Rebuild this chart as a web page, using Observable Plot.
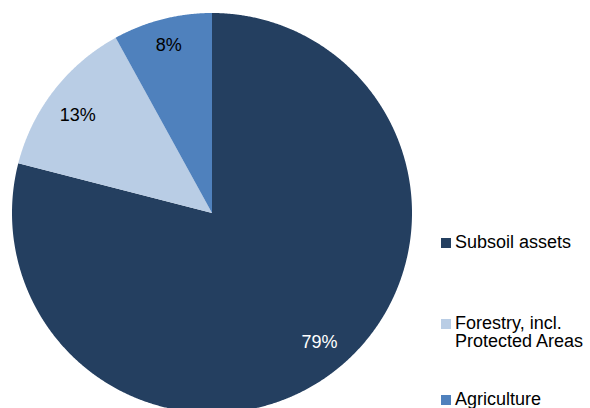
<!DOCTYPE html>
<html>
<head>
<meta charset="utf-8">
<script src="https://cdn.jsdelivr.net/npm/d3@7"></script>
<script src="https://cdn.jsdelivr.net/npm/@observablehq/plot@0.6"></script>
<style>
  html, body { margin: 0; padding: 0; background: #fff; }
  #wrap { position: relative; width: 590px; height: 408px; font-family: "Liberation Sans", Arial, sans-serif; }
  #legend { position: absolute; left: 441px; top: 0; font-size: 18px; color: #000; }
  .item { position: absolute; left: 0; white-space: nowrap; line-height: 18px; }
  .sw { position: absolute; left: 0; width: 10px; height: 10px; }
  .lab { position: absolute; left: 14px; white-space: pre; }
</style>
</head>
<body>
<div id="wrap"><div id="legend"></div></div>
<script>
const categories = ["Subsoil assets", "Forestry, incl. Protected Areas", "Agriculture"];
const legendLabels = ["Subsoil assets", "Forestry, incl.\nProtected Areas", "Agriculture"];
const shares = [79, 13, 8];
const shareLabels = ["79%", "13%", "8%"];
const colors = ["#243F60", "#B9CDE5", "#4F81BD"];
const labelColors = ["#ffffff", "#000000", "#000000"];

const W = 430, H = 408, CX = 212, CY = 213, R = 200;
// small per-label nudges (pixels), matching the original's label placement
const nudges = [[4, -4], [-2, 5], [-2, -6]];

const arcs = d3.pie().sort(null).value(d => d)(shares);
const rows = [];
arcs.forEach((a, i) => {
  const n = Math.max(2, Math.ceil((a.endAngle - a.startAngle) / 0.005));
  for (let k = 0; k <= n; k++) {
    const t = a.startAngle + (a.endAngle - a.startAngle) * k / n;
    rows.push({cat: categories[i], x: Math.sin(t), y: Math.cos(t), cx: 0, cy: 0});
  }
});
const labels = arcs.map((a, i) => {
  const m = (a.startAngle + a.endAngle) / 2;
  return {text: shareLabels[i], x: 0.84 * Math.sin(m), y: 0.84 * Math.cos(m), color: labelColors[i], i};
});

const chart = Plot.plot({
  width: W, height: H,
  marginTop: 0, marginRight: 0, marginBottom: 0, marginLeft: 0,
  style: {fontFamily: "'Liberation Sans', Arial, sans-serif", background: "transparent"},
  x: {domain: [-CX / R, (W - CX) / R], range: [0, W], axis: null},
  y: {domain: [-(H - CY) / R, CY / R], range: [H, 0], axis: null},
  color: {domain: categories, range: colors},
  marks: [
    Plot.area(rows, {x1: "x", y1: "y", x2: "cx", y2: "cy", fill: "cat", z: "cat", curve: "linear"}),
    ...labels.map(l => Plot.text([l], {x: "x", y: "y", text: "text", fill: l.color, fontSize: 18,
      dx: nudges[l.i][0], dy: nudges[l.i][1]}))
  ]
});
document.getElementById("wrap").prepend(chart);

const tops = [233, 314, 390];
const legend = document.getElementById("legend");
legendLabels.forEach((lab, i) => {
  const it = document.createElement("div");
  it.className = "item";
  it.style.top = tops[i] + "px";
  it.innerHTML = `<div class="sw" style="top:5px;background:${colors[i]}"></div><div class="lab"></div>`;
  it.querySelector(".lab").textContent = lab;
  legend.appendChild(it);
});
</script>
</body>
</html>
